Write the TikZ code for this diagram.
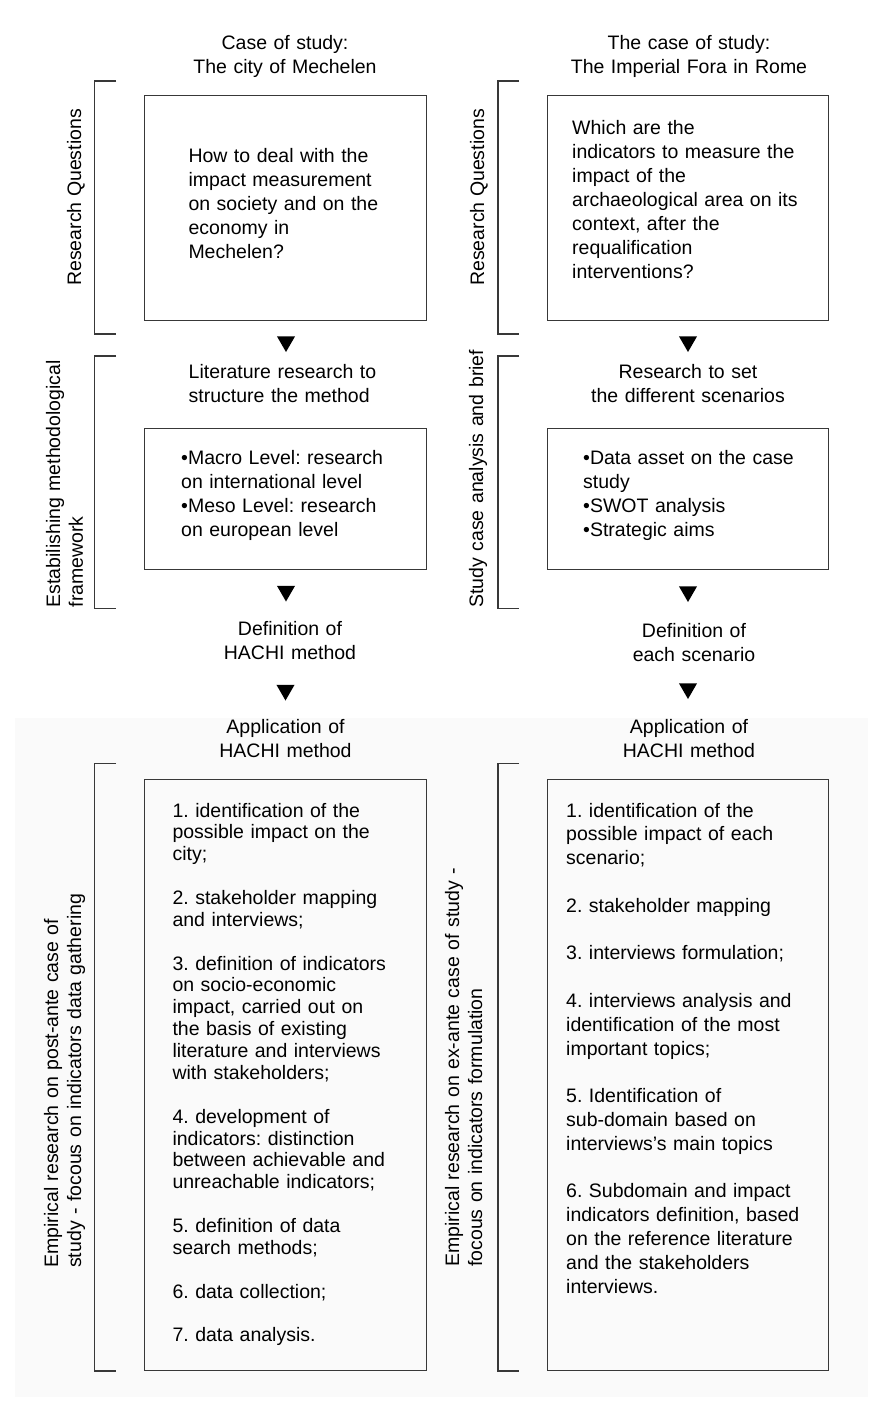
\documentclass[tikz,border=0pt]{standalone}
\usepackage{fontspec}
\setmainfont{Liberation Sans}
\usetikzlibrary{shapes.geometric}
\frenchspacing
\tikzset{
  boxframe/.style={draw=black!78, line width=1.3pt, rectangle, inner sep=0pt, anchor=north west},
  bracketline/.style={draw=black!78, line width=1.3pt},
  downtri/.style={regular polygon, regular polygon sides=3, shape border rotate=180, fill=black, inner sep=0pt, minimum size=21pt},
  txtl/.style={anchor=base west, inner sep=0pt, text width=320pt, align=left, font=\fontsize{19.5}{24}\selectfont},
  txtc/.style={anchor=base, inner sep=0pt, text width=320pt, align=center, font=\fontsize{19.5}{24}\selectfont},
  rotl/.style={rotate=90, anchor=base west, inner sep=0pt, text width=460pt, align=left, font=\fontsize{19.5}{22.8}\selectfont},
}
\begin{document}
\begin{tikzpicture}[x=1pt, y=-1pt]
\useasboundingbox (0,0) rectangle (879,1411);
\fill[white] (0,0) rectangle (879,1411);
\fill[black!2] (15,718) rectangle (868,1397);

% ---------------- left column ----------------
\node[txtc] (titleL) at (285,49) {Case of study:\\The city of Mechelen};
\draw[bracketline] (116,81) -| (94.5,334) -- (116,334);
\node[rotate=90, anchor=base, inner sep=0pt, font=\fontsize{19.5}{24}\selectfont] (rqL) at (81,197.5) {Research Questions};
\node[boxframe, minimum width=282pt, minimum height=225pt] (b1L) at (144,95) {};
\node[txtl] (t1L) at (188.3,162) {How to deal with the\\impact measurement\\on society and on the\\economy in\\Mechelen?};
\node[downtri] (a1L) at (286,341.5) {};

\draw[bracketline] (116,356) -| (94.5,608.5) -- (116,608.5);
\node[rotl] (emL) at (60,607.5) {Estabilishing methodological\\framework};
\node[txtl] (litL) at (188.5,378.5) {Literature research to\\structure the method};
\node[boxframe, minimum width=282pt, minimum height=141pt] (b2L) at (144,428) {};
\node[txtl] (t2L) at (181,464) {\textbullet Macro Level: research\\on international level\\\textbullet Meso Level: research\\on european level};
\node[downtri] (a2L) at (286,591) {};

\node[txtc] (defL) at (290,635) {Definition of\\HACHI method};
\node[downtri] (a3L) at (285.5,690) {};
\node[txtc] (appL) at (285.5,733.5) {Application of\\HACHI method};

\draw[bracketline] (116,763.5) -| (94.5,1371) -- (116,1371);
\node[rotl, font=\fontsize{19.5}{23}\selectfont] (erL) at (58,1268) {Empirical research on post-ante case of\\study - focous on indicators data gathering};
\node[boxframe, minimum width=282pt, minimum height=591pt] (b3L) at (144,778.5) {};
\node[txtl, font=\fontsize{19.5}{21.87}\selectfont] (t3L) at (172.3,817) {1. identification of the\\possible impact on the\\city;\\[21.87pt]2. stakeholder mapping\\and interviews;\\[21.87pt]3. definition of indicators\\on socio-economic\\impact, carried out on\\the basis of existing\\literature and interviews\\with stakeholders;\\[21.87pt]4. development of\\indicators: distinction\\between achievable and\\unreachable indicators;\\[21.87pt]5. definition of data\\search methods;\\[21.87pt]6. data collection;\\[21.87pt]7. data analysis.};

% ---------------- right column ----------------
\node[txtc] (titleR) at (689,49) {The case of study:\\The Imperial Fora in Rome};
\draw[bracketline] (519,81) -| (498,334) -- (519,334);
\node[rotate=90, anchor=base, inner sep=0pt, font=\fontsize{19.5}{24}\selectfont] (rqR) at (484,197.5) {Research Questions};
\node[boxframe, minimum width=281pt, minimum height=225pt] (b1R) at (547,95) {};
\node[txtl] (t1R) at (572,134) {Which are the\\indicators to measure the\\impact of the\\archaeological area on its\\context, after the\\requalification\\interventions?};
\node[downtri] (a1R) at (688,341.5) {};

\draw[bracketline] (519,356) -| (498,608.5) -- (519,608.5);
\node[rotl] (scR) at (483,608) {Study case analysis and brief};
\node[txtc] (resR) at (688,378.5) {Research to set\\the different scenarios};
\node[boxframe, minimum width=281pt, minimum height=141pt] (b2R) at (547,428) {};
\node[txtl] (t2R) at (583,464) {\textbullet Data asset on the case\\study\\\textbullet SWOT analysis\\\textbullet Strategic aims};
\node[downtri] (a2R) at (688,591.5) {};

\node[txtc] (defR) at (694,637) {Definition of\\each scenario};
\node[downtri] (a3R) at (688,688.5) {};
\node[txtc] (appR) at (689,733.5) {Application of\\HACHI method};

\draw[bracketline] (519,763.5) -| (498,1371) -- (519,1371);
\node[rotl, font=\fontsize{19.5}{23}\selectfont] (erR) at (459,1267) {Empirical research on ex-ante case of study -\\focous on indicators formulation};
\node[boxframe, minimum width=281pt, minimum height=591pt] (b3R) at (547,778.5) {};
\node[txtl, font=\fontsize{19.5}{23.8}\selectfont] (t3R) at (566,817) {1. identification of the\\possible impact of each\\scenario;\\[23.8pt]2. stakeholder mapping\\[23.8pt]3. interviews formulation;\\[23.8pt]4. interviews analysis and\\identification of the most\\important topics;\\[23.8pt]5. Identification of\\sub-domain based on\\interviews’s main topics\\[23.8pt]6. Subdomain and impact\\indicators definition, based\\on the reference literature\\and the stakeholders\\interviews.};
\end{tikzpicture}
\end{document}
